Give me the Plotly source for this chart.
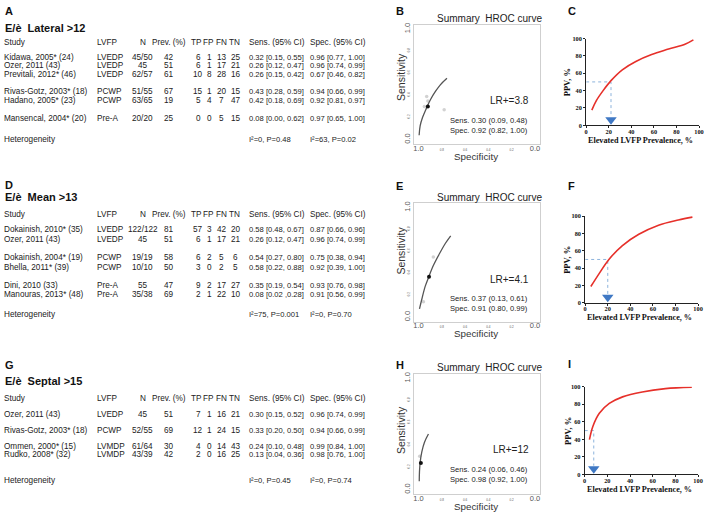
import plotly.graph_objects as go

W, H = 709, 512

# ---------------- Panel A data ----------------
a_study = ["Kidawa, 2005* (24)", "Ozer, 2011 (43)", "Previtali, 2012* (46)",
           "Rivas-Gotz, 2003* (18)", "Hadano, 2005* (23)", "Mansencal, 2004* (20)"]
a_lvfp = ["LVEDP", "LVEDP", "LVEDP", "PCWP", "PCWP", "Pre-A"]
a_n = ["45/50", "45", "62/57", "51/55", "63/65", "20/20"]
a_prev = [42, 51, 61, 67, 19, 25]
a_tp = [6, 6, 10, 15, 5, 0]
a_fp = [1, 1, 8, 1, 4, 0]
a_fn = [13, 17, 28, 20, 7, 5]
a_tn = [25, 21, 16, 15, 47, 15]
a_sens = ["0.32 [0.15, 0.55]", "0.26 [0.12, 0.47]", "0.26 [0.15, 0.42]",
          "0.43 [0.28, 0.59]", "0.42 [0.18, 0.69]", "0.08 [0.00, 0.62]"]
a_spec = ["0.96 [0.77, 1.00]", "0.96 [0.74, 0.99]", "0.67 [0.46, 0.82]",
          "0.94 [0.66, 0.99]", "0.92 [0.81, 0.97]", "0.97 [0.65, 1.00]"]
a_het = ["I²=0, P=0.48", "I²=63, P=0.02"]

# ---------------- Panel D data ----------------
d_study = ["Dokainish, 2010* (35)", "Ozer, 2011 (43)", "Dokainish, 2004* (19)",
           "Bhella, 2011* (39)", "Dini, 2010 (33)", "Manouras, 2013* (48)"]
d_lvfp = ["LVEDP", "LVEDP", "PCWP", "PCWP", "Pre-A", "Pre-A"]
d_n = ["122/122", "45", "19/19", "10/10", "55", "35/38"]
d_prev = [81, 51, 58, 50, 47, 69]
d_tp = [57, 6, 6, 3, 9, 2]
d_fp = [3, 1, 2, 0, 2, 1]
d_fn = [42, 17, 5, 2, 17, 22]
d_tn = [20, 21, 6, 5, 27, 10]
d_sens = ["0.58 [0.48, 0.67]", "0.26 [0.12, 0.47]", "0.54 [0.27, 0.80]",
          "0.58 [0.22, 0.88]", "0.35 [0.19, 0.54]", "0.08 [0.02 ,0.28]"]
d_spec = ["0.87 [0.66, 0.96]", "0.96 [0.74, 0.99]", "0.75 [0.38, 0.94]",
          "0.92 [0.39, 1.00]", "0.93 [0.76, 0.98]", "0.91 [0.56, 0.99]"]
d_het = ["I²=75, P=0.001", "I²=0, P=0.70"]

# ---------------- Panel G data ----------------
g_study = ["Ozer, 2011 (43)", "Rivas-Gotz, 2003* (18)", "Ommen, 2000* (15)", "Rudko, 2008* (32)"]
g_lvfp = ["LVEDP", "PCWP", "LVMDP", "LVMDP"]
g_n = ["45", "52/55", "61/64", "43/39"]
g_prev = [51, 69, 30, 42]
g_tp = [7, 12, 4, 2]
g_fp = [1, 1, 0, 0]
g_fn = [16, 24, 14, 16]
g_tn = [21, 15, 43, 25]
g_sens = ["0.30 [0.15, 0.52]", "0.33 [0.20, 0.50]", "0.24 [0.10, 0.48]", "0.13 [0.04, 0.36]"]
g_spec = ["0.96 [0.74, 0.99]", "0.94 [0.66, 0.99]", "0.99 [0.84, 1.00]", "0.98 [0.76, 1.00]"]
g_het = ["I²=0, P=0.45", "I²=0, P=0.74"]

headers = ["Study", "LVFP", "N", "Prev. (%)", "TP", "FP", "FN", "TN", "Sens. (95% CI)", "Spec. (95% CI)"]

# ---------------- HROC data ----------------
b_curve_spec = [0.995, 0.986, 0.966, 0.933, 0.897, 0.855, 0.813, 0.756]
b_curve_sens = [0.04, 0.126, 0.200, 0.283, 0.363, 0.436, 0.496, 0.555]
b_pts_spec = [0.93, 0.92, 0.95, 0.78]
b_pts_sens = [0.39, 0.35, 0.30, 0.27]
b_sum = (0.92, 0.30)
b_text = ["LR+=3.8", "Sens. 0.30 (0.09, 0.48)", "Spec. 0.92 (0.82, 1.00)"]

e_curve_spec = [0.992, 0.972, 0.943, 0.915, 0.873, 0.816, 0.769, 0.724]
e_curve_sens = [0.076, 0.164, 0.281, 0.360, 0.471, 0.588, 0.675, 0.743]
e_pts_spec = [0.873, 0.958]
e_pts_sens = [0.55, 0.14]
e_sum = (0.91, 0.37)
e_text = ["LR+=4.1", "Sens. 0.37 (0.13, 0.61)", "Spec. 0.91 (0.80, 0.99)"]

h_curve_spec = [0.994, 0.992, 0.986, 0.972, 0.949, 0.915]
h_curve_sens = [0.076, 0.164, 0.246, 0.339, 0.427, 0.500]
h_pts_spec = [0.99]
h_pts_sens = [0.30]
h_sum = (0.98, 0.24)
h_text = ["LR+=12", "Sens. 0.24 (0.06, 0.46)", "Spec. 0.98 (0.92, 1.00)"]

# ---------------- PPV data ----------------
c_prev = [5, 9, 15, 22, 32, 44, 58, 73, 88, 95]
c_ppv = [17.5, 28.5, 40, 51.5, 64, 73.6, 81.5, 87.8, 93.8, 98.5]
c_mark = 22
f_prev = [5, 12.5, 21, 33, 47.5, 65, 82.5, 95]
f_ppv = [18.8, 34, 50, 66, 79, 89.5, 95.5, 98.8]
f_mark = 20
i_prev = [4.2, 7.2, 12.9, 21.7, 33.4, 50.8, 71.2, 94.5]
i_ppv = [39.7, 54.7, 69.7, 80.9, 88.4, 94.0, 97.8, 99.5]
i_mark = 8
ppv_ref = 50
ppv_ticks = [0, 20, 40, 60, 80, 100]
roc_ticks = [1.0, 0.8, 0.6, 0.4, 0.2, 0.0]

SANS = "Liberation Sans, Arial"
SERIF = "Liberation Serif, Times New Roman, serif"

fig = go.Figure()
anns = []


def ann(text, px, py, size, xanchor="left", family=SANS, color="#222", bold=False, angle=0):
    anns.append(dict(text=text, x=px / W, y=1 - py / H, xref="paper", yref="paper",
                     xanchor=xanchor, yanchor="middle", showarrow=False, textangle=angle,
                     font=dict(size=size, family=family, color=color,
                               weight="bold" if bold else "normal"),
                     borderpad=0, borderwidth=0))


def table(letter, title, y_letter, y_title, y_head, y0, step, gap, y_het,
          study, lvfp, n, prev, tp, fp, fn, tn, sens, spec, het):
    ann(letter, 3, y_letter, 11, color="#111", bold=True)
    ann(title, 3, y_title, 11, color="#111", bold=True)
    fs = 8.2
    fc = 7.6
    colx = [2, 96, 142, 169, 198, 210, 222, 236, 249, 311]
    ann(headers[0], colx[0], y_head, fs)
    ann(headers[1], colx[1], y_head, fs)
    ann(headers[2], colx[2], y_head, fs, "center")
    ann(headers[3], 152, y_head, fs)
    ann(headers[4], 196, y_head, fs, "center")
    ann(headers[5], 209, y_head, fs, "center")
    ann(headers[6], 222, y_head, fs, "center")
    ann(headers[7], 235, y_head, fs, "center")
    ann(headers[8], colx[8], y_head, fs)
    ann(headers[9], colx[9], y_head, fs)
    y = y0
    for i in range(len(study)):
        if i > 0:
            y += step + (gap if lvfp[i] != lvfp[i - 1] else 0)
        ann(study[i], colx[0], y, fs)
        ann(lvfp[i], colx[1], y, fs)
        ann(n[i], colx[2], y, fs, "center")
        ann(str(prev[i]), colx[3], y, fs, "center")
        ann(str(tp[i]), colx[4], y, fs, "center")
        ann(str(fp[i]), colx[5], y, fs, "center")
        ann(str(fn[i]), colx[6], y, fs, "center")
        ann(str(tn[i]), colx[7], y, fs, "center")
        ann(sens[i], colx[8], y, fc)
        ann(spec[i], colx[9], y, fc)
    ann("Heterogeneity", colx[0], y_het, fs)
    ann(het[0], colx[8], y_het, fc)
    ann(het[1], colx[9], y_het, fc)


table("A", "E/è  Lateral >12", 7, 24, 39, 54, 8.6, 9.4, 137,
      a_study, a_lvfp, a_n, a_prev, a_tp, a_fp, a_fn, a_tn, a_sens, a_spec, a_het)
table("D", "E/è  Mean >13", 184, 196, 213, 229, 10, 8, 315,
      d_study, d_lvfp, d_n, d_prev, d_tp, d_fp, d_fn, d_tn, d_sens, d_spec, d_het)
table("G", "E/è  Septal >15", 366, 382, 400, 416, 8, 8.5, 483,
      g_study, g_lvfp, g_n, g_prev, g_tp, g_fp, g_fn, g_tn, g_sens, g_spec, g_het)

layout_axes = {}


def roc_panel(idx, letter, top, bottom, y_letter, sens_y, cs, cn, ps, pn, summ, texts):
    left, right = 416, 543
    xa = "xaxis%d" % idx
    ya = "yaxis%d" % idx
    tiny = "<span style='font-size:3px'>%s</span>"
    ytext = ["1.0"] + [tiny % ("%.1f" % v) for v in roc_ticks[1:-1]] + ["0.0"]
    big = "<span style='font-size:7.5px'>%s</span>"
    xtext = [big % "1.0"] + ["%.1f" % v for v in roc_ticks[1:-1]] + [big % "0.0"]
    common = dict(showline=True, mirror=True, linecolor="#cfcfcf", linewidth=1,
                  showgrid=False, zeroline=False, ticks="", ticklen=0, tickvals=roc_ticks)
    layout_axes[xa] = dict(domain=[left / W, right / W], range=[1.04, -0.04], anchor="y%d" % idx,
                           ticktext=xtext, ticklabelstandoff=2,
                           tickfont=dict(size=3, family=SANS, color="#555"), **common)
    layout_axes[ya] = dict(domain=[1 - bottom / H, 1 - top / H], range=[-0.04, 1.04], anchor="x%d" % idx,
                           tickangle=-90, ticktext=ytext,
                           tickfont=dict(size=7.5, family=SANS, color="#555"), **common)
    xr, yr = "x%d" % idx, "y%d" % idx
    fig.add_trace(go.Scatter(x=ps, y=pn, xaxis=xr, yaxis=yr, mode="markers",
                             marker=dict(size=3.5, color="#d2d2d2"),
                             showlegend=False, hoverinfo="skip"))
    fig.add_trace(go.Scatter(x=cs, y=cn, xaxis=xr, yaxis=yr, mode="lines", line_shape="spline",
                             line=dict(color="#555", width=1.3), showlegend=False, hoverinfo="skip"))
    fig.add_trace(go.Scatter(x=[summ[0]], y=[summ[1]], xaxis=xr, yaxis=yr, mode="markers",
                             marker=dict(size=4, color="#111"), showlegend=False, hoverinfo="skip"))
    ann(letter, 398, y_letter, 11, color="#111", bold=True)
    ann("Summary  HROC curve", 492, top - 6, 10, "center", color="#222")
    ann("Sensitivity", 403, sens_y, 10.5, "center", color="#333", angle=-90)
    ann("Specificity", 479, bottom + 12.5, 9.8, "center", color="#333")
    ann(texts[0], 532, top + 77, 10, "right", color="#222")
    ann(texts[1], 531, top + 97, 7.6, "right", color="#222")
    ann(texts[2], 531, top + 107, 7.6, "right", color="#222")


roc_panel(2, "B", 21, 142, 7, 74, b_curve_spec, b_curve_sens, b_pts_spec, b_pts_sens, b_sum, b_text)
roc_panel(3, "E", 202, 322, 185, 250, e_curve_spec, e_curve_sens, e_pts_spec, e_pts_sens, e_sum, e_text)
roc_panel(4, "H", 375, 497, 366, 432, h_curve_spec, h_curve_sens, h_pts_spec, h_pts_sens, h_sum, h_text)


def ppv_panel(idx, letter, left, right, top, bottom, y_letter, prev, ppv, mark):
    xa = "xaxis%d" % idx
    ya = "yaxis%d" % idx
    tf = dict(size=6.3, family=SERIF, color="#111", weight="bold")
    common = dict(range=[0, 100], showline=True, linecolor="#222", linewidth=1, showgrid=False,
                  zeroline=False, ticks="outside", ticklen=2, tickwidth=1, tickcolor="#222",
                  tickvals=ppv_ticks, tickfont=tf)
    layout_axes[xa] = dict(domain=[left / W, right / W], anchor="y%d" % idx,
                           ticklabelstandoff=-2, **common)
    layout_axes[ya] = dict(domain=[1 - bottom / H, 1 - top / H], anchor="x%d" % idx, **common)
    xr, yr = "x%d" % idx, "y%d" % idx
    fig.add_trace(go.Scatter(x=[0, mark, mark], y=[ppv_ref, ppv_ref, 10], xaxis=xr, yaxis=yr,
                             mode="lines", line=dict(color="#8db3dc", width=1, dash="dot"),
                             showlegend=False, hoverinfo="skip", cliponaxis=False))
    fig.add_trace(go.Scatter(x=prev, y=ppv, xaxis=xr, yaxis=yr, mode="lines", line_shape="spline",
                             line=dict(color="#e6302a", width=1.6), showlegend=False, hoverinfo="skip"))
    fig.add_trace(go.Scatter(x=[mark], y=[6.5], xaxis=xr, yaxis=yr, mode="markers",
                             marker=dict(symbol="triangle-down", size=10, color="#3f78c4"),
                             showlegend=False, hoverinfo="skip", cliponaxis=False))
    ann(letter, 572, y_letter, 11, color="#111", bold=True)
    ann("PPV, %", 571, (top + bottom) / 2, 8.5, "center", family=SERIF, color="#111", bold=True, angle=-90)
    ann("Elevated LVFP Prevalence, %", (left + right) / 2 - 2, bottom + 15, 8.2, "center",
        family=SERIF, color="#111", bold=True)


ppv_panel(5, "C", 590, 704, 35, 123, 7, c_prev, c_ppv, c_mark)
ppv_panel(6, "F", 589, 703, 215, 303, 185, f_prev, f_ppv, f_mark)
ppv_panel(7, "I", 588.5, 703, 388, 477, 365, i_prev, i_ppv, i_mark)

fig.update_layout(width=W, height=H, margin=dict(l=0, r=0, t=0, b=0),
                  paper_bgcolor="white", plot_bgcolor="white",
                  annotations=anns, showlegend=False, **layout_axes)
fig.update_layout(xaxis=dict(visible=False), yaxis=dict(visible=False))
fig.write_html("out.html", config={"displayModeBar": False},
               post_script="document.body.style.margin='0px';document.body.style.overflow='hidden';")
